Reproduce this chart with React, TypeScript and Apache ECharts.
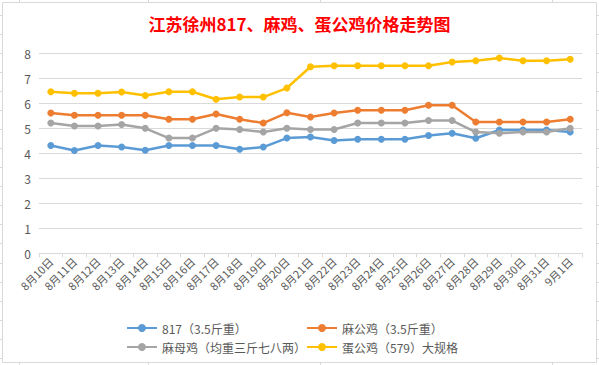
import React, { useEffect, useRef } from "react";
import * as echarts from "echarts";

const categories = [
  "8月10日", "8月11日", "8月12日", "8月13日", "8月14日", "8月15日", "8月16日", "8月17日",
  "8月18日", "8月19日", "8月20日", "8月21日", "8月22日", "8月23日", "8月24日", "8月25日",
  "8月26日", "8月27日", "8月28日", "8月29日", "8月30日", "8月31日", "9月1日",
];

const seriesNames = ["817（3.5斤重）", "麻公鸡（3.5斤重）", "麻母鸡（均重三斤七八两）", "蛋公鸡（579）大规格"];

const s817 = [4.31, 4.11, 4.31, 4.25, 4.12, 4.31, 4.31, 4.31, 4.16, 4.25, 4.61, 4.65, 4.51, 4.56, 4.56, 4.56, 4.71, 4.8, 4.6, 4.93, 4.93, 4.93, 4.85];
const sMaGong = [5.61, 5.52, 5.52, 5.52, 5.52, 5.36, 5.36, 5.57, 5.36, 5.21, 5.62, 5.45, 5.61, 5.72, 5.72, 5.72, 5.92, 5.92, 5.25, 5.25, 5.25, 5.25, 5.36];
const sMaMu = [5.21, 5.09, 5.09, 5.15, 5.0, 4.61, 4.61, 5.0, 4.95, 4.85, 5.0, 4.95, 4.95, 5.21, 5.21, 5.21, 5.31, 5.31, 4.85, 4.8, 4.85, 4.85, 5.0];
const sDanGong = [6.46, 6.4, 6.4, 6.45, 6.31, 6.46, 6.46, 6.16, 6.25, 6.25, 6.61, 7.46, 7.5, 7.5, 7.5, 7.5, 7.5, 7.65, 7.7, 7.81, 7.7, 7.7, 7.76];

const colors = ["#5B9BD5", "#ED7D31", "#A5A5A5", "#FFC000"];
const seriesData = [s817, sMaGong, sMaMu, sDanGong];

const FONT = "'Noto Sans CJK SC', 'Noto Sans', sans-serif";
const GRID_COLOR = "#D9D9D9";

export default function App() {
  const ref = useRef<HTMLDivElement>(null);

  useEffect(() => {
    if (!ref.current) return;
    const chart = echarts.init(ref.current, undefined, { renderer: "svg" });

    // spreadsheet cell-gridline stubs around the chart frame
    const stubs: any[] = [];
    const cols = [19, 148, 320, 552];
    cols.forEach((x) => {
      stubs.push({ type: "line", shape: { x1: x + 0.5, y1: 0, x2: x + 0.5, y2: 2.5 }, style: { stroke: GRID_COLOR, lineWidth: 1 } });
      stubs.push({ type: "line", shape: { x1: x + 0.5, y1: 362.5, x2: x + 0.5, y2: 365 }, style: { stroke: GRID_COLOR, lineWidth: 1 } });
    });
    for (let i = 0; i < 19; i++) {
      const y = Math.round(15 + i * 19.04) + 0.5;
      stubs.push({ type: "line", shape: { x1: 0, y1: y, x2: 2.5, y2: y }, style: { stroke: GRID_COLOR, lineWidth: 1 } });
      stubs.push({ type: "line", shape: { x1: 596.5, y1: y, x2: 599, y2: y }, style: { stroke: GRID_COLOR, lineWidth: 1 } });
    }

    const legendPos = [
      { left: 121, top: 317 },
      { left: 301, top: 317 },
      { left: 121, top: 336 },
      { left: 301, top: 336 },
    ];

    chart.setOption({
      animation: false,
      backgroundColor: "#ffffff",
      title: {
        text: "江苏徐州817、麻鸡、蛋公鸡价格走势图",
        left: "center",
        top: 10,
        textStyle: { color: "#FF0000", fontSize: 17, fontWeight: "bold", fontFamily: FONT },
      },
      legend: seriesNames.map((n, i) => ({
        data: [n],
        left: legendPos[i].left,
        top: legendPos[i].top,
        itemWidth: 30,
        itemHeight: 10,
        itemGap: 10,
        textStyle: { color: "#595959", fontSize: 12, fontFamily: FONT },
      })),
      grid: { left: 39, right: 17, top: 53.3, bottom: 111.7, containLabel: false },
      xAxis: {
        type: "category",
        data: categories,
        boundaryGap: true,
        axisLine: { lineStyle: { color: GRID_COLOR, width: 1 } },
        axisTick: { show: true, length: 4, lineStyle: { color: GRID_COLOR } },
        axisLabel: { rotate: 45, fontSize: 11, color: "#595959", fontFamily: FONT, interval: 0, margin: 6 },
      },
      yAxis: {
        type: "value",
        min: 0,
        max: 8,
        interval: 1,
        axisLine: { show: false },
        axisTick: { show: false },
        splitLine: { lineStyle: { color: GRID_COLOR, width: 1 } },
        axisLabel: { fontSize: 12, color: "#595959", fontFamily: FONT, margin: 8 },
      },
      series: seriesNames.map((n, i) => ({
        name: n,
        type: "line",
        data: seriesData[i],
        symbol: "circle",
        symbolSize: 7,
        lineStyle: { width: 2.5, color: colors[i] },
        itemStyle: { color: colors[i] },
      })),
      graphic: [
        {
          type: "rect",
          shape: { x: 2.5, y: 2.5, width: 594, height: 360 },
          style: { fill: "none", stroke: GRID_COLOR, lineWidth: 1 },
          silent: true,
        },
        ...stubs,
      ],
    });

    return () => chart.dispose();
  }, []);

  return (
    <div
      ref={ref}
      style={{ position: "fixed", left: 0, top: 0, width: 599, height: 365 }}
    />
  );
}
